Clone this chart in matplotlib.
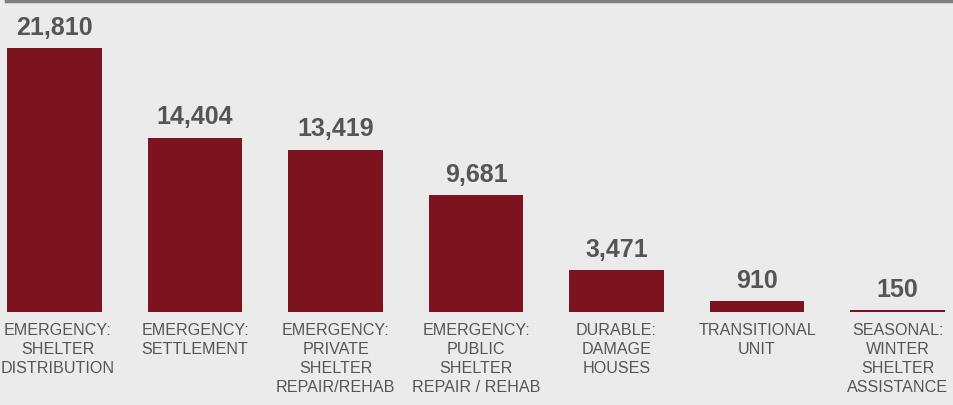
import matplotlib
matplotlib.use("Agg")
import matplotlib.pyplot as plt

categories = ["EMERGENCY:\nSHELTER\nDISTRIBUTION", "EMERGENCY:\nSETTLEMENT",
              "EMERGENCY:\nPRIVATE\nSHELTER\nREPAIR/REHAB", "EMERGENCY:\nPUBLIC\nSHELTER\nREPAIR / REHAB",
              "DURABLE:\nDAMAGE\nHOUSES", "TRANSITIONAL\nUNIT", "SEASONAL:\nWINTER\nSHELTER\nASSISTANCE"]
values = [21810, 14404, 13419, 9681, 3471, 910, 150]

BG = "#ebebeb"
BAR = "#7d131e"
TXT = "#555555"

plt.rcParams["font.family"] = ["Liberation Sans", "DejaVu Sans"]

fig = plt.figure(figsize=(9.54, 4.05), dpi=100, facecolor=BG)
ax = fig.add_axes([0, 0, 1, 1])
ax.set_facecolor(BG)
xs = list(range(len(values)))
ax.bar(xs, values, width=0.67, color=BAR)
ax.set_xlim(-0.388, 6.402)
ax.set_ylim(-7686, 25785)
for x, v, c in zip(xs, values, categories):
    ax.annotate(f"{v:,}", (x, v), xytext=(0, 6), textcoords="offset points",
                ha="center", va="bottom", fontsize=18, fontweight="bold", color=TXT)
    ax.annotate(c, (x, 0), xytext=(2.2 if x == 0 else 0, -8), textcoords="offset points",
                ha="center", va="top", fontsize=11.6, color=TXT, linespacing=1.34)
ax.axis("off")
# thin grey rule along the top edge
fig.add_artist(plt.Line2D([6 / 954, 1], [1 - 1.2 / 405] * 2, color="#808080", lw=2.5))
fig.savefig("out.png", dpi=100, facecolor=BG)
